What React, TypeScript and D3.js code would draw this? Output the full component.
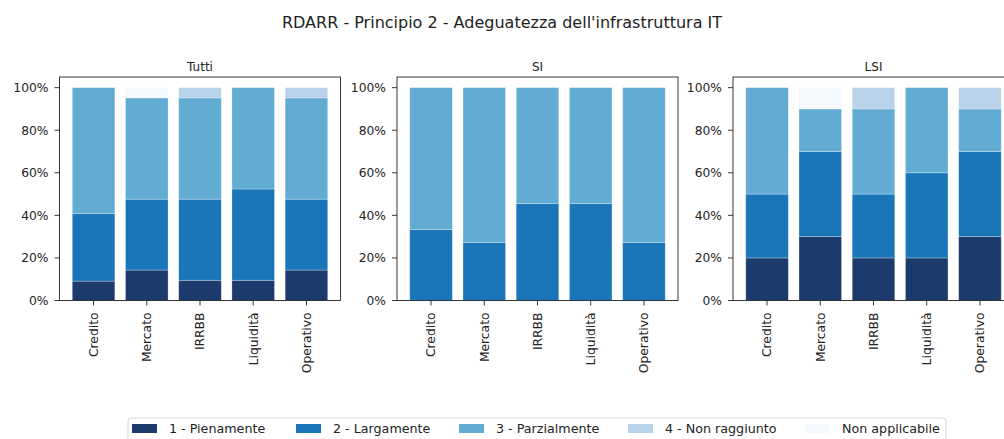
import React from "react";
import * as d3 from "d3";

const categories = ["Credito", "Mercato", "IRRBB", "Liquidità", "Operativo"];
const levels = ["1 - Pienamente", "2 - Largamente", "3 - Parzialmente", "4 - Non raggiunto", "Non applicabile"];
const levelColors = ["#1c3a6b", "#1a76b9", "#62abd3", "#b8d2ea", "#f4f9fe"];
const yTicks = [0, 0.2, 0.4, 0.6, 0.8, 1.0];

// percentages per level, per category
const tuttiPien = [9.1, 14.3, 9.5, 9.5, 14.3];
const tuttiLarg = [31.8, 33.3, 38.1, 42.9, 33.3];
const tuttiParz = [59.1, 47.6, 47.6, 47.6, 47.6];
const tuttiNonRagg = [0, 0, 4.8, 0, 4.8];
const tuttiNA = [0, 4.8, 0, 0, 0];

const siPien = [0, 0, 0, 0, 0];
const siLarg = [33.3, 27.3, 45.5, 45.5, 27.3];
const siParz = [66.7, 72.7, 54.5, 54.5, 72.7];
const siNonRagg = [0, 0, 0, 0, 0];
const siNA = [0, 0, 0, 0, 0];

const lsiPien = [20, 30, 20, 20, 30];
const lsiLarg = [30, 40, 30, 40, 40];
const lsiParz = [50, 20, 40, 40, 20];
const lsiNonRagg = [0, 0, 10, 0, 10];
const lsiNA = [0, 10, 0, 0, 0];

const panels = [
  { title: "Tutti", series: [tuttiPien, tuttiLarg, tuttiParz, tuttiNonRagg, tuttiNA] },
  { title: "SI", series: [siPien, siLarg, siParz, siNonRagg, siNA] },
  { title: "LSI", series: [lsiPien, lsiLarg, lsiParz, lsiNonRagg, lsiNA] },
];

const FONT = "DejaVu Sans, sans-serif";
const panelLefts = [59.5, 397, 733];
const panelWidth = 281;
const top = 77;
const bottom = 300.5;

function Panel({ left, title, series }: { left: number; title: string; series: number[][] }) {
  const x = d3.scaleBand<string>().domain(categories).range([left, left + panelWidth]).paddingInner(0.2).paddingOuter(0.24);
  const y = d3.scaleLinear().domain([0, 1.05]).range([bottom, top]);
  const rows = categories.map((c, i) => {
    const r: any = { cat: c };
    levels.forEach((l, j) => (r[l] = series[j][i] / 100));
    return r;
  });
  const stacked = d3.stack<any>().keys(levels)(rows);
  return (
    <g>
      <text x={left + panelWidth / 2} y={71} textAnchor="middle" fontSize={12} fontFamily={FONT} fill="#222">
        {title}
      </text>
      {stacked.map((layer, j) => (
        <g key={j}>
          {layer.map((d, i) =>
            d[1] - d[0] > 0 ? (
              <rect
                key={i}
                x={x(categories[i])}
                width={x.bandwidth()}
                y={y(d[1])}
                height={y(d[0]) - y(d[1])}
                fill={levelColors[j]}
                stroke="#ffffff"
                strokeOpacity={0.35}
                strokeWidth={0.8}
              />
            ) : null
          )}
        </g>
      ))}
      <rect x={left} y={top} width={panelWidth} height={bottom - top} fill="none" stroke="#222" strokeWidth={0.9} />
      {yTicks.map((t) => (
        <g key={t}>
          <line x1={left - 5} x2={left} y1={y(t)} y2={y(t)} stroke="#222" strokeWidth={0.9} />
          <text x={left - 11} y={y(t)} dy="0.35em" textAnchor="end" fontSize={12.3} fontFamily={FONT} fill="#222">
            {d3.format(".0%")(t)}
          </text>
        </g>
      ))}
      {categories.map((c) => {
        const cx = (x(c) as number) + x.bandwidth() / 2;
        return (
          <g key={c}>
            <line x1={cx} x2={cx} y1={bottom} y2={bottom + 5} stroke="#222" strokeWidth={0.9} />
            <text
              transform={`translate(${cx},${bottom + 12}) rotate(-90)`}
              textAnchor="end"
              dy="0.35em"
              fontSize={12.3}
              fontFamily={FONT}
              fill="#222"
            >
              {c}
            </text>
          </g>
        );
      })}
    </g>
  );
}

const legendItemX = [132, 296, 459, 628, 805];

export default function App() {
  return (
    <svg width={1004} height={439} style={{ position: "fixed", left: 0, top: 0, background: "#fff" }}>
      <rect width={1004} height={439} fill="#fff" />
      <text x={502} y={28} textAnchor="middle" fontSize={16} fontFamily={FONT} fill="#222">
        RDARR - Principio 2 - Adeguatezza dell'infrastruttura IT
      </text>
      {panels.map((p, i) => (
        <Panel key={p.title} left={panelLefts[i]} title={p.title} series={p.series} />
      ))}
      <rect x={128} y={418} width={818} height={28} rx={3} fill="#fff" stroke="#d6d6d6" strokeWidth={1} />
      {levels.map((l, i) => (
        <g key={l}>
          <rect x={legendItemX[i]} y={424} width={25} height={9} fill={levelColors[i]} />
          <text x={legendItemX[i] + 37} y={433} fontSize={12.7} fontFamily={FONT} fill="#222">
            {l}
          </text>
        </g>
      ))}
    </svg>
  );
}
